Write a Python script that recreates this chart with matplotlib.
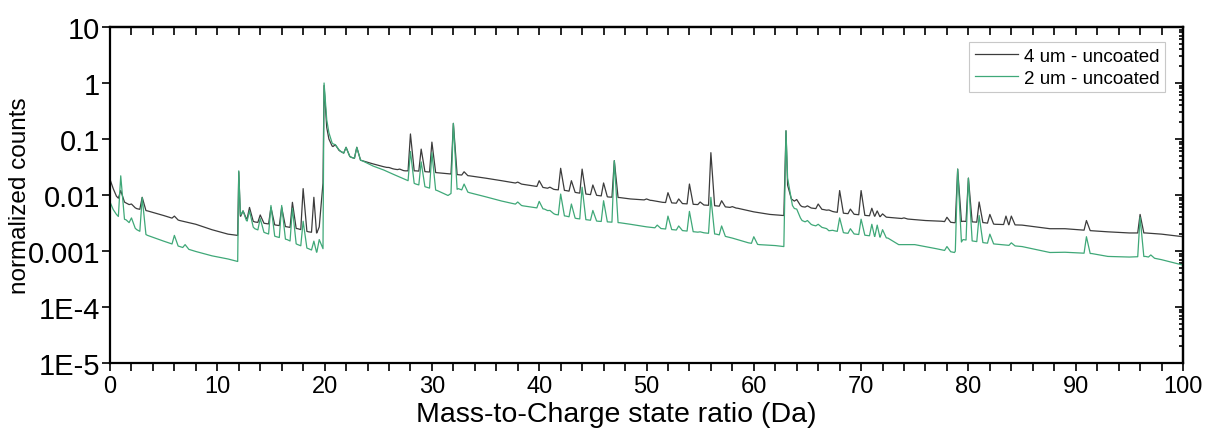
import numpy as np
import matplotlib
matplotlib.use("Agg")
import matplotlib.pyplot as plt
from matplotlib.ticker import FixedLocator, FixedFormatter, MultipleLocator, LogLocator, NullFormatter

# ---------------- data ----------------
series_labels = ["4 um - uncoated", "2 um - uncoated"]

gray_base_x = [0, 0.3, 0.6, 0.85, 1.5, 2.5, 3.5, 5, 6.5, 8, 9.5, 11, 11.9, 12.0, 12.15,
               13.5, 14.5, 15.5, 16.5, 17.5, 18.5, 19.25, 19.8, 19.95, 20.05, 20.2, 20.4, 20.7,
               21.5, 22.5, 23.5, 24.5, 25.5, 26.5, 27.5, 28.5, 29.5, 30.5, 31.5, 32.5, 33.5,
               35, 36.5, 38.5, 39.5, 40.5, 41.5, 42.5, 43.5, 44.5, 45.5, 46.5, 47.5, 48.5, 50.5,
               51.5, 53.5, 55.5, 56.5, 58.5, 60, 61.5, 62.8, 63.0, 63.15, 63.5, 64.5, 65.5, 66.5,
               67.5, 68.5, 69.5, 70.5, 72.5, 74.5, 76, 77.5, 78.7, 79.5, 80.5, 81.5, 82.5, 85,
               87.6, 89, 91.5, 93, 95, 96.5, 98, 100]
gray_base_y = [0.019, 0.013, 0.0095, 0.0085, 0.0072, 0.0057, 0.0052, 0.0043, 0.0035, 0.003,
               0.0024, 0.002, 0.0019, 0.026, 0.0042,
               0.0033, 0.0031, 0.0029, 0.0027, 0.0025, 0.0022, 0.0021, 0.0022, 0.9, 0.45, 0.16,
               0.1, 0.075,
               0.06, 0.047, 0.041, 0.036, 0.032, 0.029, 0.027, 0.027, 0.026, 0.025, 0.024, 0.023,
               0.022,
               0.02, 0.018, 0.0155, 0.0145, 0.0135, 0.0125, 0.012, 0.011, 0.0103, 0.0098, 0.0092,
               0.009, 0.0085, 0.008,
               0.0074, 0.007, 0.0066, 0.0064, 0.0058, 0.005, 0.0045, 0.0043, 0.14, 0.015, 0.0085,
               0.0062, 0.0058, 0.0055,
               0.005, 0.0047, 0.0045, 0.0043, 0.004, 0.0037, 0.0035, 0.0034, 0.0032, 0.0034,
               0.0033, 0.0032, 0.003, 0.0029,
               0.0025, 0.0025, 0.0023, 0.0022, 0.0021, 0.0021, 0.002, 0.0018]
gray_peak_x = [1, 2, 3, 6, 12.4, 13, 14, 15, 16, 17, 18, 19, 19.5,
               21, 22, 23, 26, 27, 28, 29, 30, 32, 33, 38, 40, 41, 42, 43, 44, 45, 46, 47,
               50, 52, 53, 54, 55, 56, 57, 58, 64, 65, 66, 67, 68, 69, 70, 71, 71.5, 72,
               74, 78, 79, 80, 81, 82, 83.5, 84, 91, 96]
gray_peak_y = [0.012, 0.0069, 0.0091, 0.0042, 0.0052, 0.006, 0.0044, 0.006, 0.006, 0.0074,
               0.013, 0.0091, 0.0027,
               0.079, 0.071, 0.071, 0.031, 0.029, 0.123, 0.066, 0.088, 0.19, 0.026, 0.017,
               0.018, 0.0138, 0.030, 0.018, 0.029, 0.0151, 0.0164, 0.041,
               0.0085, 0.011, 0.0085, 0.0157, 0.0075, 0.057, 0.0079, 0.0062, 0.0083, 0.0064,
               0.0069, 0.0054, 0.012, 0.0056, 0.012, 0.0058, 0.0052, 0.0046,
               0.0039, 0.004, 0.029, 0.020, 0.0075, 0.0045, 0.0042, 0.0042, 0.0035, 0.0045]

green_base_x = [0, 0.3, 0.6, 0.85, 1.5, 2.5, 3.5, 5, 6.5, 8, 9.5, 11, 11.9, 12.0, 12.15,
                13.5, 14.5, 15.5, 16.5, 17.5, 18.5, 19.25, 19.85, 19.95, 20.05, 20.2, 20.4, 20.7,
                21.5, 22.5, 23.5, 24.5, 25.5, 26.5, 27.5, 28.5, 29.5, 30.5, 31.5, 32.45, 33.5,
                35, 36.5, 38.5, 39.5, 40.5, 41.5, 42.5, 43.5, 44.5, 45.5, 46.5, 47.5, 48.5, 50,
                51.5, 53.5, 55.5, 56.5, 58, 59.5, 60.5, 62, 62.8, 63.0, 63.15, 63.6, 64.5, 65.5,
                66.5, 67.5, 68.5, 69.5, 70.5, 72.5, 73.5, 75, 77, 78.7, 79.5, 80.5, 81.5, 82.5,
                85, 87.6, 89, 91.5, 93, 95, 96.5, 98, 100]
green_base_y = [0.0075, 0.0055, 0.0045, 0.004, 0.0036, 0.0024, 0.0019, 0.0015, 0.0012, 0.00098,
                0.00082, 0.00072, 0.00065, 0.027, 0.0045,
                0.0025, 0.0021, 0.0018, 0.0016, 0.0013, 0.0011, 0.00095, 0.0011, 1.0, 0.55, 0.22,
                0.13, 0.085,
                0.06, 0.047, 0.041, 0.033, 0.028, 0.023, 0.019, 0.0157, 0.0138, 0.012, 0.0098,
                0.013, 0.011,
                0.0093, 0.0078, 0.0064, 0.006, 0.0056, 0.0045, 0.0042, 0.0038, 0.0036, 0.0034,
                0.0033, 0.0032, 0.003, 0.0027,
                0.0025, 0.0023, 0.0021, 0.002, 0.0017, 0.0014, 0.0013, 0.00125, 0.0012, 0.14,
                0.02, 0.0065, 0.0035, 0.0029,
                0.0026, 0.0023, 0.0021, 0.002, 0.0019, 0.0017, 0.0013, 0.0013, 0.0011, 0.00094,
                0.0016, 0.0015, 0.0014, 0.00133,
                0.0012, 0.00094, 0.00095, 0.0009, 0.0008, 0.00078, 0.0008, 0.0007, 0.00056]
green_peak_x = [1, 2, 3, 6, 7, 12.4, 13, 14, 15, 16, 17, 18, 19, 19.5,
                21, 22, 23, 28, 29, 30, 32, 33, 38, 40, 41, 42, 43, 44, 45, 46, 47,
                51, 52, 53, 54, 55, 56, 57, 60, 64, 65, 66, 67, 68, 69, 70, 71, 71.5, 72,
                78, 79, 80, 81, 82, 84, 91, 96, 97]
green_peak_y = [0.022, 0.0039, 0.009, 0.0019, 0.0013, 0.0052, 0.0052, 0.0038, 0.0065, 0.0065,
                0.0058, 0.0034, 0.0015, 0.0016,
                0.079, 0.071, 0.071, 0.06, 0.039, 0.057, 0.19, 0.0157, 0.0075, 0.0077, 0.0053,
                0.0104, 0.0069, 0.0138, 0.0053, 0.0079, 0.041,
                0.0029, 0.0042, 0.0028, 0.0051, 0.0022, 0.0091, 0.0028, 0.0018, 0.0056, 0.0035,
                0.003, 0.0023, 0.0039, 0.0025, 0.0037, 0.003, 0.0029, 0.0024,
                0.0012, 0.029, 0.020, 0.0043, 0.002, 0.0014, 0.0018, 0.004, 0.00085]

y_tick_values = [1e-5, 1e-4, 1e-3, 1e-2, 1e-1, 1, 10]
y_tick_labels = ["1E-5", "1E-4", "0.001", "0.01", "0.1", "1", "10"]
x_tick_values = [0, 10, 20, 30, 40, 50, 60, 70, 80, 90, 100]


def trace(bx, by, px, py, rise=0.22, fall=0.35):
    """Polyline through the baseline anchors with each listed peak inserted."""
    bx = np.asarray(bx, float)
    lby = np.log10(np.asarray(by, float))
    order = np.argsort(px)
    px = np.asarray(px, float)[order]
    py = np.asarray(py, float)[order]
    wins = []
    for i, p in enumerate(px):
        lo = p - rise
        hi = p + fall
        if i > 0:
            lo = max(lo, (px[i - 1] + p) / 2)
        if i < len(px) - 1:
            hi = min(hi, (px[i + 1] + p) / 2)
        wins.append((lo, hi))
    pts = []
    for x, l in zip(bx, lby):
        if any(lo <= x <= hi for lo, hi in wins):
            continue
        pts.append((x, 10 ** l))
    for (lo, hi), p, y in zip(wins, px, py):
        pts.append((lo, 10 ** np.interp(lo, bx, lby)))
        pts.append((p, y))
        pts.append((hi, 10 ** np.interp(hi, bx, lby)))
    pts.sort(key=lambda t: t[0])
    xs, ys = zip(*pts)
    return np.array(xs), np.array(ys)


plt.rcParams['font.family'] = ['Liberation Sans', 'DejaVu Sans']

fig = plt.figure(figsize=(12.05, 4.39), dpi=100)
ax = fig.add_axes([110 / 1205, 1 - 364 / 439, (1183 - 110) / 1205, (364 - 28) / 439])

gx, gy = trace(gray_base_x, gray_base_y, gray_peak_x, gray_peak_y)
ex, ey = trace(green_base_x, green_base_y, green_peak_x, green_peak_y)
ax.plot(gx, gy, color='#3c3c3c', lw=0.9, label=series_labels[0])
ax.plot(ex, ey, color='#3fa878', lw=0.9, label=series_labels[1])

ax.set_yscale('log')
ax.set_xlim(0, 100)
ax.set_ylim(1e-5, 10)

ax.yaxis.set_major_locator(FixedLocator(y_tick_values))
ax.yaxis.set_major_formatter(FixedFormatter(y_tick_labels))
ax.yaxis.set_minor_locator(LogLocator(base=10, subs=np.arange(2, 10)))
ax.yaxis.set_minor_formatter(NullFormatter())
ax.xaxis.set_major_locator(FixedLocator(x_tick_values))
ax.xaxis.set_minor_locator(MultipleLocator(2))

for s in ax.spines.values():
    s.set_linewidth(1.6)

ax.tick_params(axis='both', which='both', width=1.2)
ax.tick_params(axis='x', which='major', direction='out', length=6, labelsize=17, pad=3)
ax.tick_params(axis='x', which='minor', direction='out', length=6)
ax.tick_params(axis='y', which='major', direction='out', length=6, labelsize=21, pad=1)
ax.tick_params(axis='y', which='minor', direction='out', length=3)

# mirrored ticks on top / right
axt = ax.secondary_xaxis('top')
axt.xaxis.set_major_locator(FixedLocator(x_tick_values))
axt.xaxis.set_minor_locator(MultipleLocator(2))
axt.tick_params(which='both', direction='in', length=6, width=1.2, labeltop=False)
axt.spines['top'].set_linewidth(1.6)
axr = ax.secondary_yaxis('right')
axr.yaxis.set_major_locator(FixedLocator(y_tick_values))
axr.yaxis.set_minor_locator(LogLocator(base=10, subs=np.arange(2, 10)))
axr.yaxis.set_minor_formatter(NullFormatter())
axr.tick_params(which='major', direction='in', length=6, width=1.2, labelright=False)
axr.tick_params(which='minor', direction='in', length=3, width=1.2, labelright=False)
axr.spines['right'].set_linewidth(1.6)

ax.set_xlabel("Mass-to-Charge state ratio (Da)", fontsize=20.5)
ax.xaxis.set_label_coords((616 - 110) / 1073, -(415 - 364) / 336, transform=ax.transAxes)
ax.xaxis.label.set_va('center')
ax.set_ylabel("normalized counts", fontsize=17.5)
ax.yaxis.set_label_coords(-(110 - 20) / 1073, 0.5, transform=ax.transAxes)
ax.yaxis.label.set_va('center')

leg = ax.legend(loc='upper right', bbox_to_anchor=(0.983, 0.955), fontsize=13.5,
                frameon=True, fancybox=False, edgecolor='#c8c8c8', framealpha=1,
                handlelength=2.3, handletextpad=0.3, borderpad=0.3, labelspacing=0.25,
                borderaxespad=0)
leg.get_frame().set_linewidth(0.8)

fig.savefig("out.png", dpi=100)
